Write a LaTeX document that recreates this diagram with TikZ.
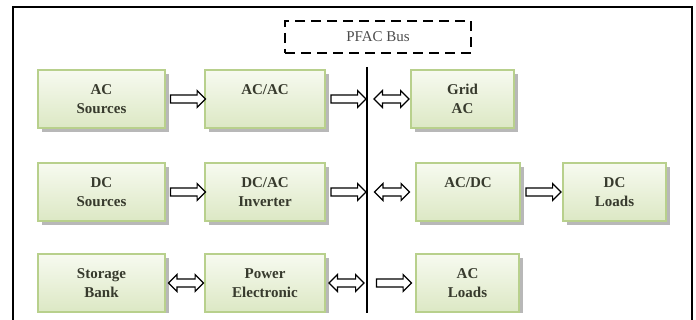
\documentclass[tikz,border=0pt]{standalone}
\usepackage{fontspec}
\setmainfont{Liberation Serif}
\usetikzlibrary{shapes, arrows.meta, positioning, shadows, calc}

\definecolor{boxtop}{RGB}{247,250,240}
\definecolor{boxbot}{RGB}{220,232,196}
\definecolor{boxedge}{RGB}{184,208,140}
\definecolor{boxtext}{RGB}{55,58,45}

\tikzset{
    blk/.style={draw=boxedge, line width=1pt, top color=boxtop, bottom color=boxbot,
        minimum width=60pt, minimum height=29pt, inner sep=0pt, align=center,
        font=\fontsize{7.5}{9.5}\selectfont\bfseries, text=boxtext,
        drop shadow={shadow xshift=1.8pt, shadow yshift=-1.8pt, fill=black!35, opacity=0.8}},
    fwd/.style={shape=single arrow, draw, fill=white, line width=0.6pt,
        inner xsep=0pt, inner ysep=1.7pt, minimum height=17.5pt,
        single arrow head extend=2.2pt},
    both/.style={shape=double arrow, draw, fill=white, line width=0.6pt,
        inner xsep=0pt, inner ysep=1.7pt, minimum height=17.5pt,
        double arrow head extend=2.2pt},
}

\begin{document}
\begin{tikzpicture}[x=0.5pt, y=0.5pt]
        \useasboundingbox (0,0) rectangle (696,-320);
        \clip (0,0) rectangle (696,-320);

        % outer frame (cut at the bottom)
        \draw[line width=1pt] (13,-330) -- (13,-7) -- (692,-7) -- (692,-330);

        % --- bus ---
        \node[draw, dash pattern=on 5pt off 3pt, line width=0.8pt, minimum width=93pt,
            minimum height=16pt, font=\fontsize{7.5}{9}\selectfont, text=black!70]
            (bus) at (378,-37) {PFAC Bus};

        \begin{scope}
        \clip (0,0) rectangle (696,-313);
        \draw[line width=1.2pt] (367,-67) -- (367,-330);
        \foreach \n/\y in {b1/-99, b2/-192, b3/-283}
            \coordinate (\n) at (367,\y);

        % row 1
        \node[blk, minimum width=63.5pt] (acsrc) at (101.5,-99) {AC\\Sources};
        \node[blk] (acac) at (265,-99) {AC/AC\\~};
        \node[blk, minimum width=51.5pt] (grid) at (462.5,-99) {Grid\\AC};

        % row 2
        \node[blk, minimum width=63.5pt] (dcsrc) at (101.5,-192) {DC\\Sources};
        \node[blk] (dcac) at (265,-192) {DC/AC\\Inverter};
        \node[blk, minimum width=52pt] (acdc) at (468,-192) {AC/DC\\~};
        \node[blk, minimum width=51.5pt] (dcload) at (614.5,-192) {DC\\Loads};

        % row 3
        \node[blk, minimum width=63.5pt] (store) at (101.5,-283) {Storage\\Bank};
        \node[blk] (power) at (265,-283) {Power\\Electronic};
        \node[blk, minimum width=51.5pt] (acload) at (467.5,-283) {AC\\Loads};
        \end{scope}

        % block arrows between the boxes and the bus
        \node[fwd] (a1) at ($(acsrc.east)!0.5!(acac.west)+(1,0)$) {};
        \node[fwd] (a2) at ($(acac.east)!0.5!(b1)$) {};
        \node[both] (a3) at ($(b1)!0.5!(grid.west)+(3,0)$) {};

        \node[fwd] (a4) at ($(dcsrc.east)!0.5!(dcac.west)+(1,0)$) {};
        \node[fwd] (a5) at ($(dcac.east)!0.5!(b2)$) {};
        \node[both] (a6) at ($(b2)!0.5!(acdc.west)+(1,0)$) {};
        \node[fwd] (a7) at ($(acdc.east)!0.5!(dcload.west)$) {};

        \node[both] (a8) at ($(store.east)!0.5!(power.west)+(1,0)$) {};
        \node[both] (a9) at ($(power.east)!0.5!(b3)$) {};
        \node[fwd] (a10) at ($(b3)!0.5!(acload.west)+(1,0)$) {};
\end{tikzpicture}
\end{document}
